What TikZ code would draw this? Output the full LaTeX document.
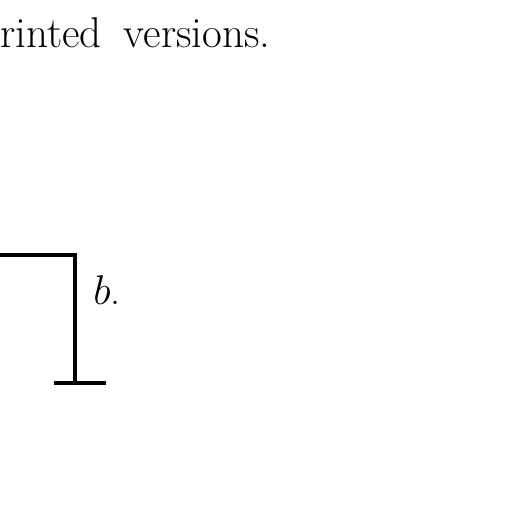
\documentclass[tikz,border=0pt]{standalone}
\begin{document}
\begin{tikzpicture}[x=0.5pt,y=-0.5pt]
            \useasboundingbox (0,0) rectangle (512,512);
            \node[anchor=base west, inner sep=0pt] (caption) at (0,48) {\fontsize{21.5}{26}\selectfont rinted\hspace{11pt}versions.};
            \coordinate (left) at (-5,255);
            \coordinate (corner) at (75,255);
            \coordinate (foot) at (75,383);
            \draw[line width=1.6pt] (left) -- (corner) -- (foot);
            \draw[line width=1.6pt] (54,383) coordinate (footl) -- (106,383) coordinate (footr);
            \node[anchor=base west, inner sep=0pt] (blabel) at (93,304) {\fontsize{20}{24}\selectfont$b$.};
        \end{tikzpicture}
\end{document}
